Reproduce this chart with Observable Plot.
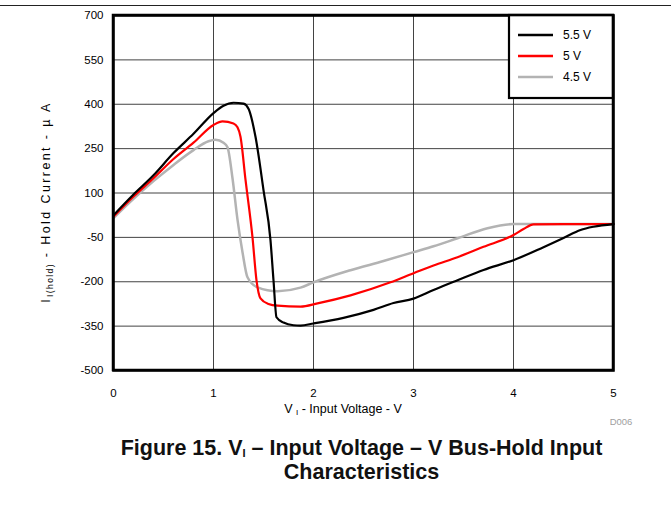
<!DOCTYPE html>
<html>
<head>
<meta charset="utf-8">
<script src="https://cdn.jsdelivr.net/npm/d3@7"></script>
<script src="https://cdn.jsdelivr.net/npm/@observablehq/plot@0.6"></script>
<style>
  body { margin: 0; background: #fff; font-family: "Liberation Sans", Arial, sans-serif; }
  #wrap { position: relative; width: 671px; }
  #rule { position: absolute; left: 0; top: 5px; width: 671px; border-top: 1.5px solid #222; }
  #chart svg { display: block; }
  #caption { margin-left: 52px; width: 619px; text-align: center; font-weight: bold; font-size: 21.5px; line-height: 24px; margin-top: 6px; color: #111; }
  #caption sub { font-size: 11px; vertical-align: -2px; line-height: 0; }
</style>
</head>
<body>
<div id="wrap">
  <div id="rule"></div>
  <div id="chart"></div>
  <div id="caption">Figure 15. V<sub>I</sub> – Input Voltage – V Bus-Hold Input<br>Characteristics</div>
</div>
<script>
// ---- data ----
const seriesNames = ["5.5 V", "5 V", "4.5 V"];
const seriesColors = ["#000000", "#ff0000", "#b3b3b3"];

const v55 = [
  [0,25],[0.2,95],[0.4,160],[0.6,235],[0.8,300],[1.0,370],[1.1,395],[1.2,405],[1.3,402],[1.35,385],
  [1.42,290],[1.5,110],[1.57,-60],[1.6,-195],[1.63,-320],[1.7,-338],[1.8,-347],[1.87,-348],[2.0,-341],
  [2.3,-322],[2.6,-295],[2.8,-272],[3.0,-257],[3.2,-228],[3.44,-195],[3.7,-160],[4.0,-127],[4.3,-83],
  [4.5,-52],[4.67,-25],[4.8,-14],[5.0,-5]
];
const v50 = [
  [0,20],[0.2,88],[0.4,150],[0.6,215],[0.8,270],[1.0,330],[1.09,342],[1.2,335],[1.24,322],[1.27,290],
  [1.32,145],[1.39,-50],[1.43,-195],[1.47,-256],[1.55,-275],[1.64,-281],[1.87,-284],[2.04,-273],
  [2.37,-246],[2.77,-202],[3.0,-171],[3.2,-145],[3.44,-117],[3.7,-82],[4.0,-42],[4.1,-22],[4.2,-6],
  [4.5,-5],[5.0,-5]
];
const v45 = [
  [0,15],[0.2,80],[0.4,140],[0.6,195],[0.8,245],[0.95,275],[1.02,280],[1.1,270],[1.14,255],[1.19,150],
  [1.24,10],[1.29,-100],[1.34,-185],[1.44,-219],[1.64,-232],[1.87,-220],[2.0,-202],[2.37,-161],
  [2.7,-130],[3.0,-100],[3.2,-80],[3.44,-53],[3.74,-19],[4.0,-5],[4.5,-5],[5.0,-5]
];
const xTicks = [0, 1, 2, 3, 4, 5];
const yTicks = [-500, -350, -200, -50, 100, 250, 400, 550, 700];

const series = [v55, v50, v45];
const rows = [];
series.forEach((s, i) => s.forEach(([x, y]) => rows.push({x, y, s: seriesNames[i]})));

const W = 671, H = 430;
const plot = Plot.plot({
  width: W, height: H,
  marginLeft: 113, marginRight: 58, marginTop: 15, marginBottom: 60,
  style: { fontFamily: "'Liberation Sans', Arial, sans-serif", fontSize: "11.5px", color: "#000", background: "#fff" },
  x: { domain: [0, 5], ticks: xTicks, tickFormat: d => String(d), label: null, tickSize: 0, tickPadding: 18 },
  y: { domain: [-500, 700], ticks: yTicks, tickFormat: d => String(d), label: null, tickSize: 0, tickPadding: 10 },
  color: { domain: seriesNames, range: seriesColors },
  marks: [
    Plot.gridX(xTicks.slice(1, -1), { stroke: "#222", strokeOpacity: 0.85, strokeWidth: 1 }),
    Plot.gridY(yTicks.slice(1, -1), { stroke: "#222", strokeOpacity: 0.85, strokeWidth: 1 }),
    Plot.line(rows.filter(d => d.s === "4.5 V"), { x: "x", y: "y", stroke: "s", strokeWidth: 2.5, curve: "monotone-x" }),
    Plot.line(rows.filter(d => d.s === "5 V"), { x: "x", y: "y", stroke: "s", strokeWidth: 2.2, curve: "monotone-x" }),
    Plot.line(rows.filter(d => d.s === "5.5 V"), { x: "x", y: "y", stroke: "s", strokeWidth: 2.2, curve: "monotone-x" }),
    Plot.frame({ stroke: "#000", strokeWidth: 2.5 })
  ]
});
document.getElementById("chart").appendChild(plot);

const svg = d3.select(plot);
const xs = plot.scale("x"), ys = plot.scale("y");

// legend box inside top-right corner
const pxRight = xs.apply(5), pxTop = ys.apply(700);
const lg = svg.append("g").attr("text-anchor", "start");
lg.append("rect").attr("x", pxRight - 104).attr("y", pxTop).attr("width", 104).attr("height", 83)
  .attr("fill", "#fff").attr("stroke", "#000").attr("stroke-width", 2.2);
seriesNames.forEach((n, i) => {
  const yy = pxTop + 20 + i * 21;
  lg.append("line").attr("x1", pxRight - 95).attr("x2", pxRight - 60).attr("y1", yy).attr("y2", yy)
    .attr("stroke", seriesColors[i]).attr("stroke-width", 2.5);
  lg.append("text").attr("x", pxRight - 50).attr("y", yy).attr("dy", "0.35em")
    .attr("text-anchor", "start").attr("font-size", 12).attr("fill", "#000").text(n);
});
// redraw frame edge over legend
svg.append("rect").attr("x", xs.apply(0)).attr("y", pxTop).attr("width", pxRight - xs.apply(0))
  .attr("height", ys.apply(-500) - pxTop).attr("fill", "none").attr("stroke", "#000").attr("stroke-width", 2.5);

// y axis label with subscript
const yl = svg.append("text")
  .attr("transform", `translate(50,202) rotate(-90)`)
  .attr("text-anchor", "middle").attr("font-size", 12.5).attr("letter-spacing", "2.4px").attr("fill", "#000");
yl.append("tspan").text("I");
yl.append("tspan").attr("font-size", 8.5).attr("dy", 3).attr("letter-spacing", "1.4px").text("I(hold)");
yl.append("tspan").attr("dy", -3).text(" - Hold Current - µ A");

// x axis label with subscript
const xl = svg.append("text")
  .attr("x", 343).attr("y", 413).attr("text-anchor", "middle")
  .attr("font-size", 12.5).attr("fill", "#000");
xl.append("tspan").text("V ");
xl.append("tspan").attr("font-size", 8).attr("dy", 2).text("I");
xl.append("tspan").attr("dy", -2).text(" - Input Voltage - V");

svg.append("text").attr("x", 621).attr("y", 425).attr("text-anchor", "middle")
  .attr("font-size", 9.5).attr("fill", "#a0a0a0").text("D006");
</script>
</body>
</html>
